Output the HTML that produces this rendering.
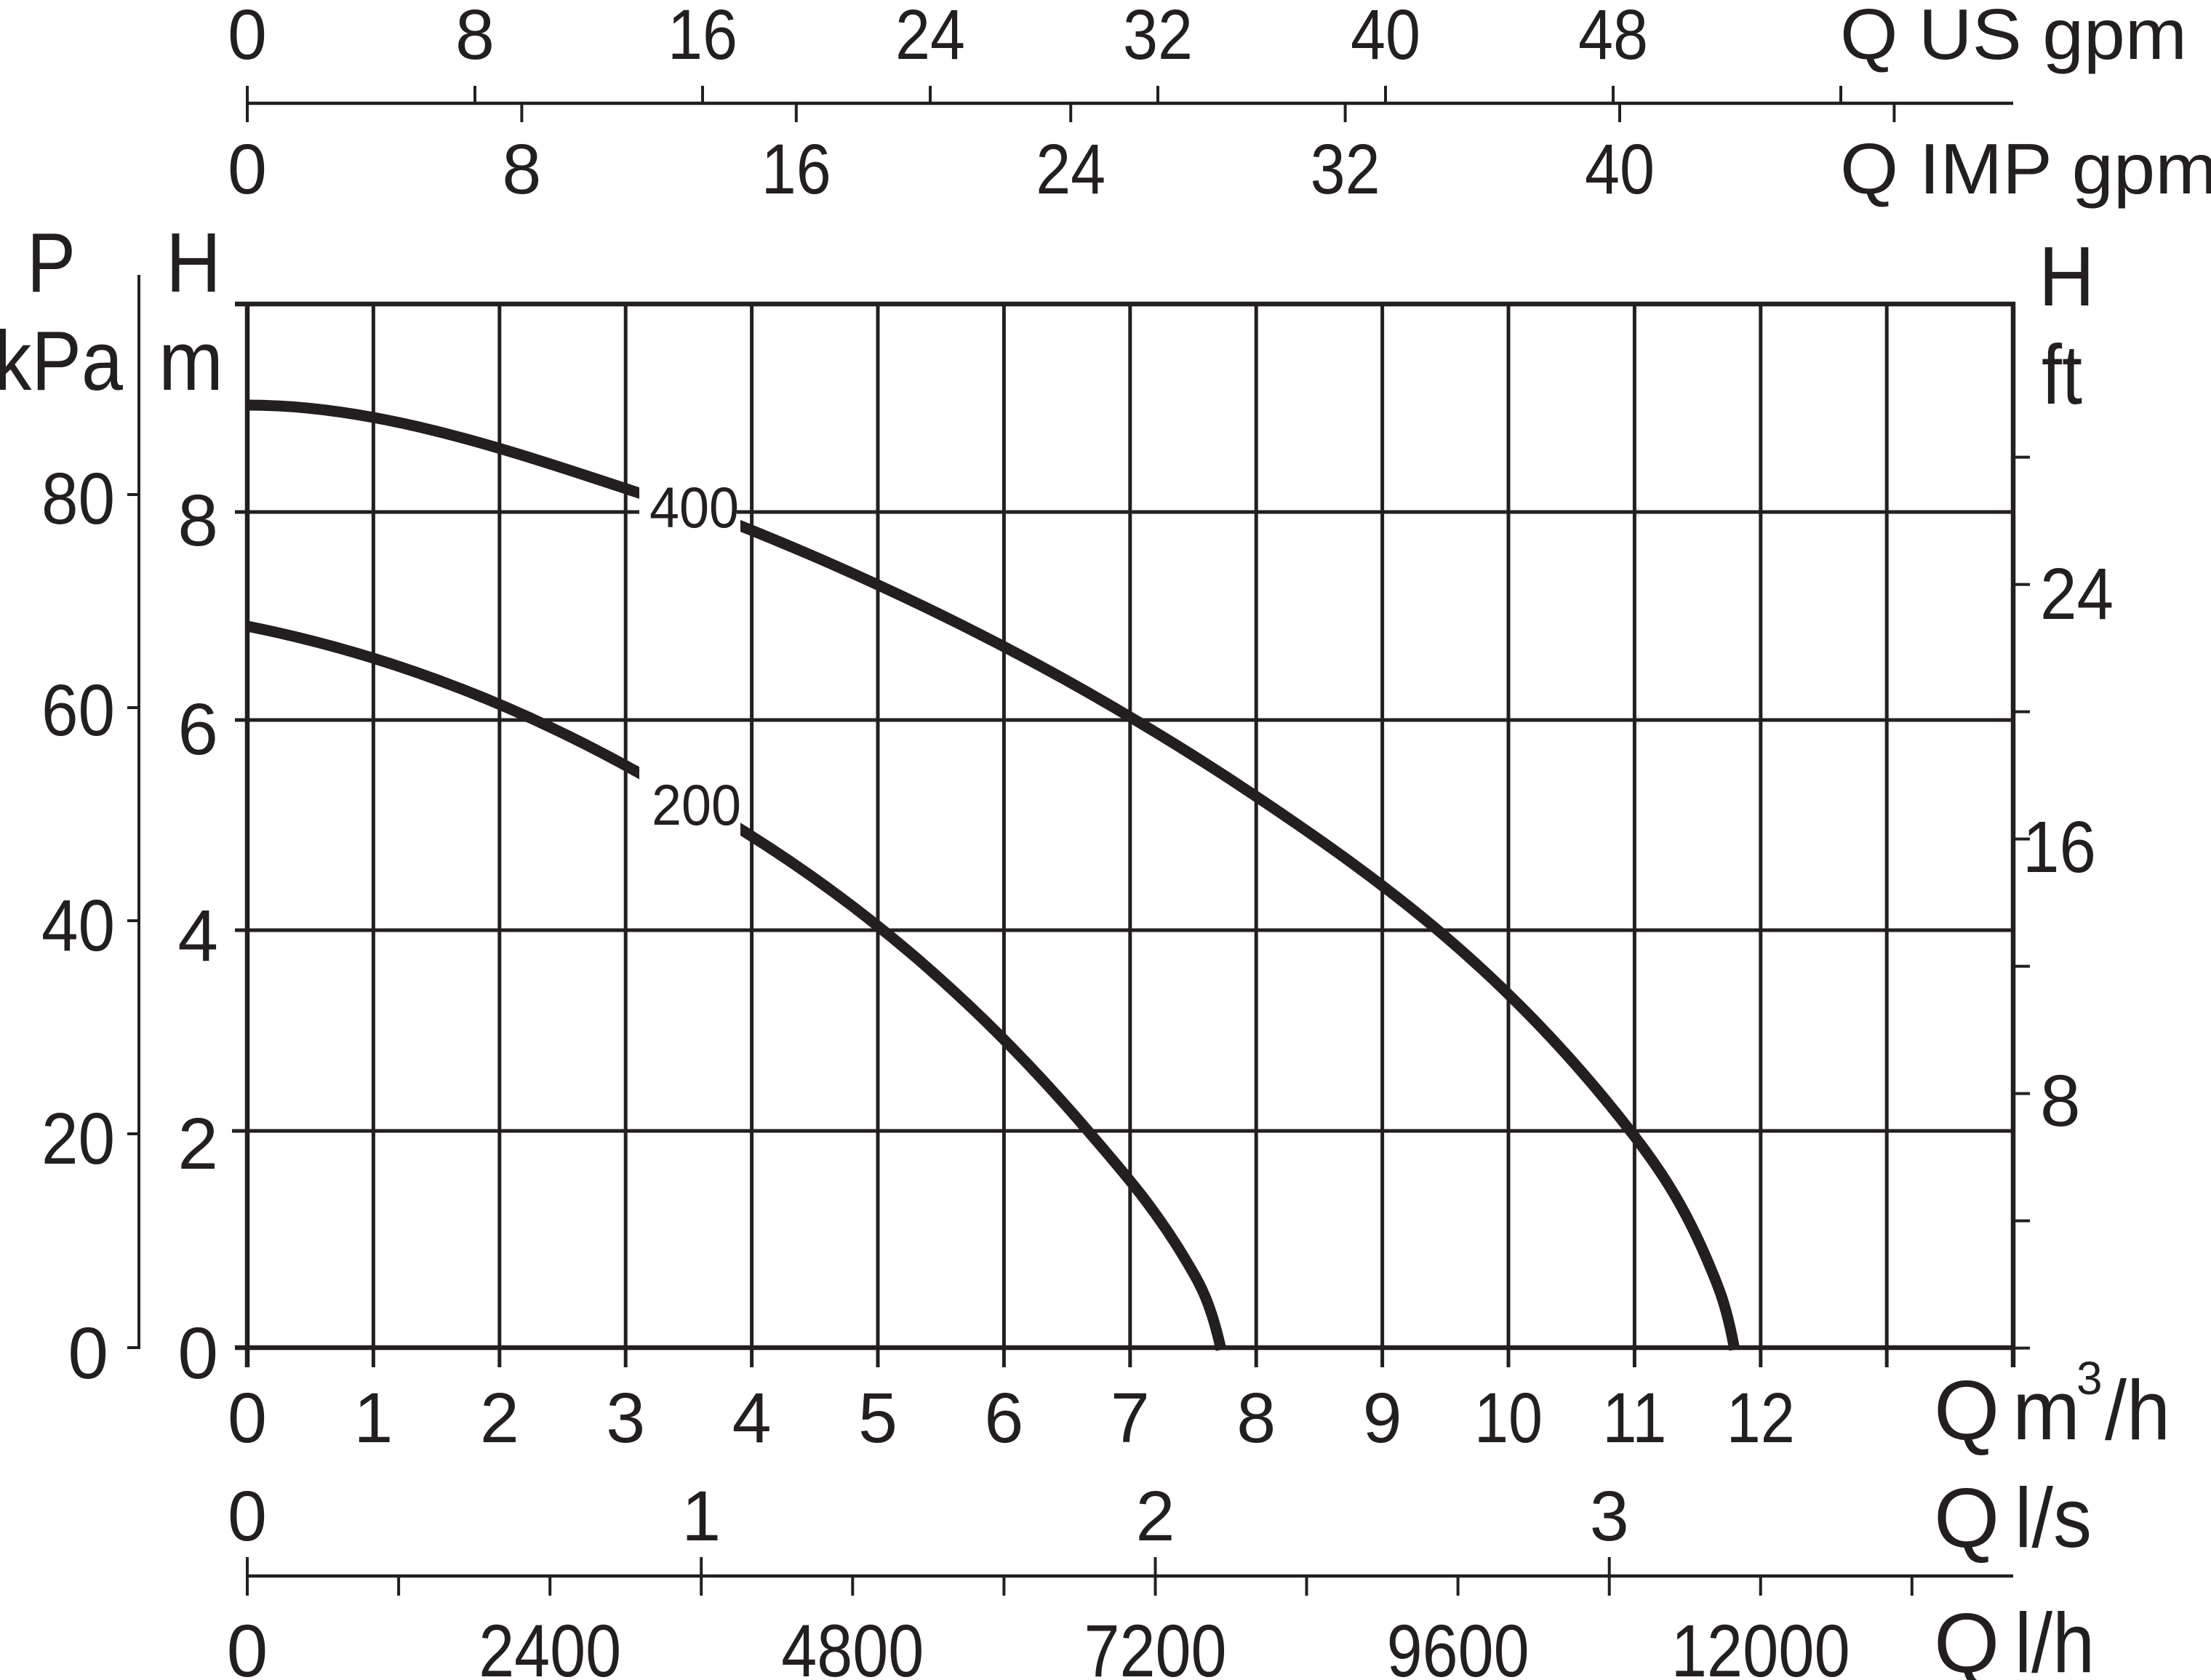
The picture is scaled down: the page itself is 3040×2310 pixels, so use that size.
<!DOCTYPE html>
<html>
<head>
<meta charset="utf-8">
<style>
html,body{margin:0;padding:0;background:#fff;}
svg{display:block;}
text{font-family:"Liberation Sans",Arial,sans-serif;fill:#231f20;}
</style>
</head>
<body>
<svg xmlns="http://www.w3.org/2000/svg" width="3040" height="2310" viewBox="0 0 3040 2310">
<rect width="3040" height="2310" fill="#fff"/>
<defs>
<clipPath id="gap">
<rect x="0" y="0" width="879" height="2310"/>
<rect x="1018" y="0" width="2100" height="2310"/>
</clipPath>
</defs>

<!-- TOP AXIS (US gpm / IMP gpm) -->
<g stroke="#231f20" fill="none">
<line x1="340" y1="142" x2="2768" y2="142" stroke-width="4.5"/>
<g stroke-width="4">
<line x1="340" y1="118" x2="340" y2="142"/>
<line x1="653" y1="118" x2="653" y2="142"/>
<line x1="966" y1="118" x2="966" y2="142"/>
<line x1="1279" y1="118" x2="1279" y2="142"/>
<line x1="1592" y1="118" x2="1592" y2="142"/>
<line x1="1905" y1="118" x2="1905" y2="142"/>
<line x1="2218" y1="118" x2="2218" y2="142"/>
<line x1="2531" y1="118" x2="2531" y2="142"/>
<line x1="340" y1="142" x2="340" y2="168"/>
<line x1="717.4" y1="142" x2="717.4" y2="168"/>
<line x1="1094.8" y1="142" x2="1094.8" y2="168"/>
<line x1="1472.2" y1="142" x2="1472.2" y2="168"/>
<line x1="1849.6" y1="142" x2="1849.6" y2="168"/>
<line x1="2227" y1="142" x2="2227" y2="168"/>
<line x1="2604.4" y1="142" x2="2604.4" y2="168"/>
</g>
</g>
<g font-size="97" text-anchor="middle">
<text x="340" y="81">0</text>
<text x="653" y="81">8</text>
<text x="966" y="81" textLength="96" lengthAdjust="spacingAndGlyphs">16</text>
<text x="1279" y="81" textLength="96" lengthAdjust="spacingAndGlyphs">24</text>
<text x="1592" y="81" textLength="96" lengthAdjust="spacingAndGlyphs">32</text>
<text x="1905" y="81" textLength="96" lengthAdjust="spacingAndGlyphs">40</text>
<text x="2218" y="81" textLength="96" lengthAdjust="spacingAndGlyphs">48</text>
<text x="340" y="266">0</text>
<text x="717.4" y="266">8</text>
<text x="1094.8" y="266" textLength="96" lengthAdjust="spacingAndGlyphs">16</text>
<text x="1472.2" y="266" textLength="96" lengthAdjust="spacingAndGlyphs">24</text>
<text x="1849.6" y="266" textLength="96" lengthAdjust="spacingAndGlyphs">32</text>
<text x="2227" y="266" textLength="96" lengthAdjust="spacingAndGlyphs">40</text>
</g>
<text x="2530" y="81" font-size="98" textLength="477" lengthAdjust="spacingAndGlyphs">Q US gpm</text>
<text x="2530" y="266" font-size="98" textLength="519" lengthAdjust="spacingAndGlyphs">Q IMP gpm</text>

<!-- LEFT TITLES -->
<text x="37" y="401" font-size="116" textLength="67" lengthAdjust="spacingAndGlyphs">P</text>
<text x="228" y="401" font-size="116" textLength="76" lengthAdjust="spacingAndGlyphs">H</text>
<text x="-8" y="536" font-size="116" textLength="177" lengthAdjust="spacingAndGlyphs">kPa</text>
<text x="218" y="536" font-size="116" textLength="89" lengthAdjust="spacingAndGlyphs">m</text>
<!-- RIGHT TITLES -->
<text x="2803" y="420" font-size="116" textLength="77" lengthAdjust="spacingAndGlyphs">H</text>
<text x="2807" y="555" font-size="116" textLength="56" lengthAdjust="spacingAndGlyphs">ft</text>

<!-- GRID -->
<g stroke="#231f20" fill="none">
<g stroke-width="5">
<line x1="513.4" y1="418" x2="513.4" y2="1880"/>
<line x1="686.8" y1="418" x2="686.8" y2="1880"/>
<line x1="860.2" y1="418" x2="860.2" y2="1880"/>
<line x1="1033.6" y1="418" x2="1033.6" y2="1880"/>
<line x1="1207" y1="418" x2="1207" y2="1880"/>
<line x1="1380.4" y1="418" x2="1380.4" y2="1880"/>
<line x1="1553.8" y1="418" x2="1553.8" y2="1880"/>
<line x1="1727.2" y1="418" x2="1727.2" y2="1880"/>
<line x1="1900.6" y1="418" x2="1900.6" y2="1880"/>
<line x1="2074" y1="418" x2="2074" y2="1880"/>
<line x1="2247.4" y1="418" x2="2247.4" y2="1880"/>
<line x1="2420.8" y1="418" x2="2420.8" y2="1880"/>
<line x1="2594.2" y1="418" x2="2594.2" y2="1880"/>
<line x1="323" y1="704" x2="2768" y2="704"/>
<line x1="323" y1="990" x2="2768" y2="990"/>
<line x1="323" y1="1279" x2="2768" y2="1279"/>
<line x1="319" y1="1555" x2="2768" y2="1555"/>
</g>
<g stroke-width="6.5">
<line x1="323" y1="418" x2="2771" y2="418"/>
<line x1="323" y1="1853" x2="2771" y2="1853"/>
<line x1="340" y1="415" x2="340" y2="1880"/>
<line x1="2768" y1="415" x2="2768" y2="1880"/>
</g>
<!-- right ft ticks -->
<g stroke-width="4">
<line x1="2770" y1="628.6" x2="2791" y2="628.6"/>
<line x1="2770" y1="803.6" x2="2791" y2="803.6"/>
<line x1="2770" y1="978.6" x2="2791" y2="978.6"/>
<line x1="2770" y1="1153.6" x2="2791" y2="1153.6"/>
<line x1="2770" y1="1328.6" x2="2791" y2="1328.6"/>
<line x1="2770" y1="1503.6" x2="2791" y2="1503.6"/>
<line x1="2770" y1="1678.6" x2="2791" y2="1678.6"/>
<line x1="2770" y1="1853.6" x2="2791" y2="1853.6"/>
</g>
<!-- P kPa axis -->
<g stroke-width="4">
<line x1="191" y1="378" x2="191" y2="1855"/>
<line x1="175" y1="680" x2="191" y2="680"/>
<line x1="175" y1="973" x2="191" y2="973"/>
<line x1="175" y1="1266" x2="191" y2="1266"/>
<line x1="175" y1="1559" x2="191" y2="1559"/>
<line x1="175" y1="1853" x2="193" y2="1853"/>
</g>
</g>

<!-- white gap behind 400 label -->
<rect x="879" y="696" width="134" height="16" fill="#fff"/>

<!-- CURVES -->
<g clip-path="url(#gap)" stroke="#231f20" stroke-width="15" fill="none" stroke-linejoin="round">
<path d="M340,557 C519.7,557 699.3,618.7 879,678 C925.3,693.3 971.7,704.5 1018,723 C1254.3,817.5 1490.7,936.7 1727,1095 C1900.3,1211.1 2073.7,1336.7 2247,1562 C2281.3,1606.6 2315.7,1656.6 2350,1739 C2361.7,1767 2373.3,1791.8 2385,1856"/>
<path d="M340,861 C519.7,896.9 699.3,962.4 879,1063 C925.3,1089 971.7,1111.3 1018,1140 C1177,1238.6 1336,1368 1495,1554 C1541,1607.8 1587,1658.8 1633,1737 C1648.3,1763.1 1663.7,1787 1679,1856"/>
</g>
<text x="893" y="725" font-size="79" textLength="123" lengthAdjust="spacingAndGlyphs">400</text>
<text x="896" y="1134" font-size="79" textLength="123" lengthAdjust="spacingAndGlyphs">200</text>

<!-- LEFT LABELS kPa -->
<g font-size="100" text-anchor="end">
<text x="158" y="720" textLength="101" lengthAdjust="spacingAndGlyphs">80</text>
<text x="158" y="1011" textLength="101" lengthAdjust="spacingAndGlyphs">60</text>
<text x="158" y="1307" textLength="101" lengthAdjust="spacingAndGlyphs">40</text>
<text x="158" y="1600" textLength="101" lengthAdjust="spacingAndGlyphs">20</text>
<text x="149" y="1895">0</text>
<!-- H m -->
<text x="300" y="750">8</text>
<text x="300" y="1037">6</text>
<text x="300" y="1321">4</text>
<text x="300" y="1607">2</text>
<text x="300" y="1895">0</text>
</g>
<!-- RIGHT LABELS ft -->
<g font-size="100">
<text x="2805" y="851" textLength="101" lengthAdjust="spacingAndGlyphs">24</text>
<text x="2781" y="1199" textLength="101" lengthAdjust="spacingAndGlyphs">16</text>
<text x="2805" y="1548">8</text>
</g>

<!-- BOTTOM m3/h LABELS -->
<g font-size="97" text-anchor="middle">
<text x="340" y="1983">0</text>
<text x="513.4" y="1983">1</text>
<text x="686.8" y="1983">2</text>
<text x="860.2" y="1983">3</text>
<text x="1033.6" y="1983">4</text>
<text x="1207" y="1983">5</text>
<text x="1380.4" y="1983">6</text>
<text x="1553.8" y="1983">7</text>
<text x="1727.2" y="1983">8</text>
<text x="1900.6" y="1983">9</text>
<text x="2074" y="1983" textLength="94" lengthAdjust="spacingAndGlyphs">10</text>
<text x="2247.4" y="1983" textLength="88" lengthAdjust="spacingAndGlyphs">11</text>
<text x="2420.8" y="1983" textLength="94" lengthAdjust="spacingAndGlyphs">12</text>
</g>
<text x="2659" y="1979" font-size="116">Q</text>
<text x="2767" y="1979" font-size="116" textLength="93" lengthAdjust="spacingAndGlyphs">m</text>
<text x="2855" y="1917" font-size="64">3</text>
<text x="2894" y="1979" font-size="116" textLength="90" lengthAdjust="spacingAndGlyphs">/h</text>

<!-- l/s axis -->
<g stroke="#231f20" fill="none">
<line x1="340" y1="2167" x2="2768" y2="2167" stroke-width="4.5"/>
<g stroke-width="4">
<line x1="340" y1="2141" x2="340" y2="2194"/>
<line x1="964.2" y1="2141" x2="964.2" y2="2194"/>
<line x1="1588.5" y1="2141" x2="1588.5" y2="2194"/>
<line x1="2212.7" y1="2141" x2="2212.7" y2="2194"/>
<line x1="548.1" y1="2167" x2="548.1" y2="2194"/>
<line x1="756.2" y1="2167" x2="756.2" y2="2194"/>
<line x1="1172.3" y1="2167" x2="1172.3" y2="2194"/>
<line x1="1380.4" y1="2167" x2="1380.4" y2="2194"/>
<line x1="1796.5" y1="2167" x2="1796.5" y2="2194"/>
<line x1="2004.6" y1="2167" x2="2004.6" y2="2194"/>
<line x1="2420.7" y1="2167" x2="2420.7" y2="2194"/>
<line x1="2628.8" y1="2167" x2="2628.8" y2="2194"/>
</g>
</g>
<g font-size="97" text-anchor="middle">
<text x="340" y="2118">0</text>
<text x="964.2" y="2118">1</text>
<text x="1588.5" y="2118">2</text>
<text x="2212.7" y="2118">3</text>
</g>
<text x="2659" y="2127" font-size="116">Q</text>
<text x="2770" y="2127" font-size="116" textLength="106" lengthAdjust="spacingAndGlyphs">l/s</text>

<!-- l/h labels -->
<g font-size="102" text-anchor="middle">
<text x="340" y="2305">0</text>
<text x="756.2" y="2305" textLength="196" lengthAdjust="spacingAndGlyphs">2400</text>
<text x="1172.3" y="2305" textLength="196" lengthAdjust="spacingAndGlyphs">4800</text>
<text x="1588.5" y="2305" textLength="196" lengthAdjust="spacingAndGlyphs">7200</text>
<text x="2004.6" y="2305" textLength="196" lengthAdjust="spacingAndGlyphs">9600</text>
<text x="2420.7" y="2305" textLength="246" lengthAdjust="spacingAndGlyphs">12000</text>
</g>
<text x="2659" y="2299" font-size="116">Q</text>
<text x="2770" y="2299" font-size="116" textLength="110" lengthAdjust="spacingAndGlyphs">l/h</text>
</svg>
</body>
</html>
